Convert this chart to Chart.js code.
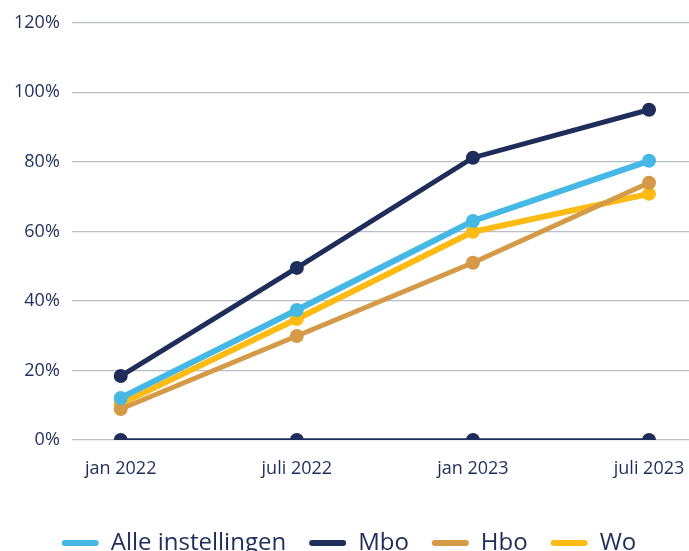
<!DOCTYPE html>
<html><head><meta charset="utf-8">
<script src="https://cdn.jsdelivr.net/npm/chart.js@4"></script>
<style>html,body{margin:0;padding:0;background:#fff;overflow:hidden}#wrap{width:696px;height:551px}</style>
</head><body><div id="wrap"><canvas id="c"></canvas></div>
<script>
const categories = ["jan 2022", "juli 2022", "jan 2023", "juli 2023"];
const alleInstellingen = [12.1, 37.4, 63.0, 80.3];
const mbo = [18.4, 49.5, 81.2, 95.0];
const hbo = [8.9, 29.9, 51.0, 74.0];
const wo = [10.4, 34.8, 59.9, 70.8];
const baseline = [0, 0, 0, 0];
const yTicks = [0, 20, 40, 60, 80, 100, 120];

const navy = '#1f2d5a';
const pts = arr => arr.map((v, i) => ({x: i, y: v}));
function ds(label, data, color, w) {
  return {label, data: pts(data), borderColor: color, backgroundColor: color,
    borderWidth: w, pointRadius: 7, pointHoverRadius: 7, pointBackgroundColor: color,
    pointBorderWidth: 0, tension: 0};
}
new Chart(document.getElementById('c'), {
  type: 'line',
  data: { datasets: [
    ds('Alle instellingen', alleInstellingen, '#45b8e6', 6),
    ds('Mbo', mbo, navy, 5),
    ds('Hbo', hbo, '#d49a47', 5),
    ds('Wo', wo, '#fdbb13', 6),
    Object.assign(ds('', baseline, navy, 3.5), {legendHidden: true})
  ]},
  options: {
    responsive: true, maintainAspectRatio: false, animation: false,
    layout: {padding: {top: 17, right: 0, left: 2, bottom: -14}},
    scales: {
      x: {type: 'linear', min: -0.278, max: 3.227,
        afterBuildTicks: s => { s.ticks = categories.map((c, i) => ({value: i})); },
        afterFit: s => { s.height = 68; s.paddingLeft = 0; s.paddingRight = 0; },
        ticks: {callback: v => categories[v], color: navy, font: {family: 'Open Sans', size: 18}, padding: 18, maxRotation: 0, autoSkip: false},
        grid: {display: false, drawTicks: false}, border: {display: false}},
      y: {min: 0, max: 120,
        afterBuildTicks: s => { s.ticks = yTicks.map(v => ({value: v})); },
        ticks: {callback: v => v + '%', color: navy, font: {family: 'Open Sans', size: 18}, padding: 12},
        grid: {color: '#b9bdc6', lineWidth: 1.3, drawTicks: false}, border: {display: false}}
    },
    plugins: {
      legend: {position: 'bottom',
        labels: {filter: (it, d) => !d.datasets[it.datasetIndex].legendHidden,
          generateLabels: ch => Chart.defaults.plugins.legend.labels.generateLabels(ch).map(l => Object.assign(l, {lineWidth: 0})),
          boxWidth: 37, boxHeight: 6, useBorderRadius: true, borderRadius: 3,
          color: navy, font: {family: 'Open Sans', size: 24}, padding: 23}},
      tooltip: {enabled: false}
    }
  }
});
</script></body></html>
